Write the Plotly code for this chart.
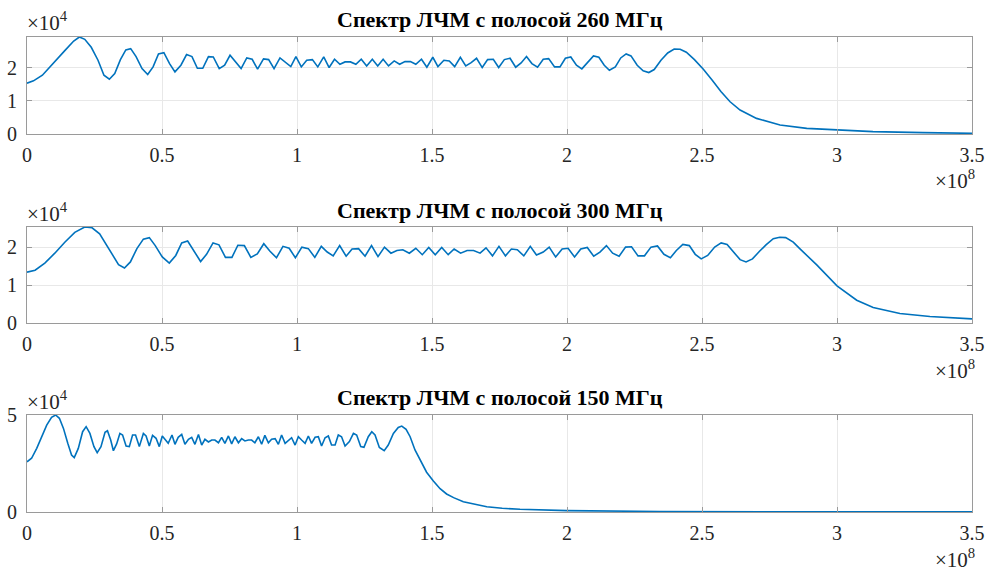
import plotly.graph_objects as go

# Frequency in units of 1e8 Hz, amplitude in units of 1e4
spec_260 = [
    (0, 1.53), (0.024, 1.6), (0.057, 1.77), (0.098, 2.12), (0.14, 2.51), (0.173, 2.8), (0.194, 2.92),
    (0.214, 2.85), (0.238, 2.61), (0.263, 2.22), (0.285, 1.77), (0.305, 1.65), (0.325, 1.82), (0.346, 2.24),
    (0.366, 2.53), (0.384, 2.57), (0.404, 2.33), (0.426, 1.97), (0.447, 1.79), (0.467, 2.02), (0.487, 2.41),
    (0.507, 2.45), (0.528, 2.12), (0.548, 1.87), (0.57, 2.07), (0.591, 2.39), (0.611, 2.33), (0.631, 1.98),
    (0.651, 1.98), (0.672, 2.33), (0.69, 2.32), (0.712, 1.97), (0.732, 2.07), (0.752, 2.37), (0.773, 2.17),
    (0.793, 1.97), (0.814, 2.29), (0.834, 2.25), (0.854, 1.95), (0.876, 2.26), (0.895, 2.24), (0.915, 1.97),
    (0.937, 2.29), (0.957, 2.15), (0.977, 2.03), (0.996, 2.33), (1.016, 2.02), (1.036, 2.22), (1.057, 2.24),
    (1.077, 2.02), (1.099, 2.32), (1.119, 2.0), (1.139, 2.25), (1.159, 2.1), (1.178, 2.17), (1.198, 2.17),
    (1.218, 2.1), (1.238, 2.25), (1.258, 2.05), (1.279, 2.25), (1.299, 2.05), (1.319, 2.25), (1.339, 2.05),
    (1.36, 2.2), (1.38, 2.1), (1.4, 2.18), (1.42, 2.18), (1.44, 2.1), (1.461, 2.25), (1.481, 2.01),
    (1.503, 2.31), (1.522, 2.03), (1.544, 2.22), (1.564, 2.2), (1.584, 2.03), (1.605, 2.31), (1.625, 2.05),
    (1.645, 2.15), (1.665, 2.28), (1.686, 2.0), (1.706, 2.24), (1.727, 2.25), (1.747, 2.0), (1.768, 2.24),
    (1.789, 2.28), (1.81, 2.01), (1.83, 2.14), (1.85, 2.33), (1.87, 2.12), (1.891, 2.01), (1.912, 2.25),
    (1.932, 2.27), (1.954, 2.02), (1.974, 2.02), (1.994, 2.28), (2.014, 2.32), (2.035, 2.07), (2.055, 1.96),
    (2.075, 2.14), (2.098, 2.35), (2.118, 2.31), (2.138, 2.07), (2.157, 1.92), (2.179, 2.02), (2.199, 2.29),
    (2.219, 2.41), (2.237, 2.35), (2.26, 2.07), (2.282, 1.9), (2.303, 1.85), (2.323, 1.94), (2.348, 2.22),
    (2.373, 2.44), (2.397, 2.56), (2.419, 2.55), (2.442, 2.46), (2.472, 2.24), (2.505, 1.95), (2.538, 1.62),
    (2.57, 1.28), (2.604, 0.97), (2.641, 0.72), (2.702, 0.47), (2.789, 0.27), (2.888, 0.17), (3.0, 0.12),
    (3.133, 0.07), (3.318, 0.04), (3.5, 0.02),
]

spec_300 = [
    (0, 1.34), (0.03, 1.39), (0.066, 1.58), (0.103, 1.84), (0.14, 2.13), (0.177, 2.39), (0.214, 2.53),
    (0.241, 2.51), (0.269, 2.35), (0.296, 2.04), (0.32, 1.74), (0.339, 1.54), (0.361, 1.45), (0.383, 1.61),
    (0.407, 1.96), (0.431, 2.21), (0.453, 2.25), (0.475, 2.04), (0.501, 1.74), (0.527, 1.58), (0.551, 1.78),
    (0.573, 2.11), (0.595, 2.16), (0.619, 1.89), (0.643, 1.62), (0.665, 1.81), (0.689, 2.11), (0.711, 2.06),
    (0.735, 1.73), (0.759, 1.73), (0.781, 2.05), (0.805, 2.04), (0.829, 1.73), (0.853, 1.82), (0.877, 2.09),
    (0.9, 1.89), (0.924, 1.72), (0.948, 2.02), (0.971, 1.97), (0.994, 1.72), (1.018, 2.0), (1.042, 1.96),
    (1.066, 1.73), (1.09, 2.02), (1.112, 1.87), (1.134, 1.77), (1.158, 2.04), (1.182, 1.76), (1.204, 1.95),
    (1.228, 1.96), (1.252, 1.76), (1.276, 2.04), (1.3, 1.75), (1.324, 2.0), (1.348, 1.84), (1.37, 1.91),
    (1.392, 1.93), (1.416, 1.84), (1.44, 1.97), (1.464, 1.8), (1.488, 1.99), (1.512, 1.8), (1.536, 1.99),
    (1.56, 1.8), (1.582, 1.95), (1.606, 1.84), (1.63, 1.91), (1.654, 1.91), (1.678, 1.84), (1.7, 1.98),
    (1.724, 1.77), (1.748, 2.02), (1.772, 1.77), (1.794, 1.95), (1.816, 1.93), (1.84, 1.77), (1.864, 2.02),
    (1.887, 1.79), (1.912, 1.87), (1.934, 2.0), (1.958, 1.74), (1.982, 1.95), (2.004, 1.97), (2.028, 1.74),
    (2.051, 1.95), (2.075, 1.99), (2.099, 1.76), (2.122, 1.87), (2.146, 2.04), (2.169, 1.84), (2.193, 1.76),
    (2.217, 2.0), (2.239, 2.01), (2.263, 1.77), (2.287, 1.77), (2.311, 2.0), (2.335, 2.03), (2.359, 1.81),
    (2.383, 1.72), (2.405, 1.91), (2.429, 2.07), (2.453, 2.04), (2.475, 1.81), (2.497, 1.69), (2.521, 1.78),
    (2.547, 2.0), (2.571, 2.11), (2.593, 2.07), (2.617, 1.87), (2.641, 1.67), (2.663, 1.61), (2.687, 1.69),
    (2.713, 1.89), (2.737, 2.06), (2.764, 2.22), (2.788, 2.26), (2.81, 2.25), (2.838, 2.13), (2.862, 1.96),
    (2.925, 1.53), (3.0, 0.98), (3.073, 0.6), (3.134, 0.41), (3.233, 0.25), (3.344, 0.17), (3.5, 0.11),
]

spec_150 = [
    (0, 2.59), (0.017, 2.77), (0.036, 3.28), (0.054, 3.88), (0.073, 4.48), (0.091, 4.88), (0.106, 5.0),
    (0.12, 4.83), (0.135, 4.31), (0.151, 3.54), (0.165, 2.94), (0.175, 2.8), (0.19, 3.28), (0.206, 4.14),
    (0.219, 4.4), (0.233, 4.05), (0.248, 3.37), (0.26, 3.06), (0.274, 3.37), (0.289, 4.11), (0.298, 4.19),
    (0.31, 3.71), (0.32, 3.16), (0.332, 3.51), (0.344, 4.05), (0.354, 3.97), (0.367, 3.4), (0.379, 3.37),
    (0.391, 3.97), (0.402, 3.97), (0.416, 3.37), (0.431, 4.05), (0.441, 3.92), (0.453, 3.4), (0.465, 3.95),
    (0.478, 3.8), (0.49, 3.37), (0.501, 3.92), (0.512, 3.71), (0.523, 3.54), (0.537, 3.97), (0.548, 3.49),
    (0.56, 3.85), (0.573, 4.0), (0.585, 3.49), (0.598, 3.75), (0.61, 3.85), (0.622, 3.49), (0.635, 4.0),
    (0.647, 3.45), (0.659, 3.75), (0.672, 3.61), (0.684, 3.71), (0.696, 3.71), (0.709, 3.57), (0.721, 3.85),
    (0.733, 3.54), (0.746, 3.92), (0.758, 3.51), (0.77, 3.88), (0.783, 3.57), (0.795, 3.78), (0.807, 3.66),
    (0.82, 3.71), (0.832, 3.71), (0.844, 3.57), (0.857, 3.88), (0.869, 3.49), (0.881, 3.95), (0.894, 3.57),
    (0.906, 3.75), (0.919, 3.78), (0.931, 3.49), (0.943, 3.97), (0.956, 3.54), (0.968, 3.71), (0.98, 3.83),
    (0.993, 3.45), (1.005, 3.88), (1.017, 3.71), (1.03, 3.54), (1.042, 3.92), (1.054, 3.54), (1.067, 3.85),
    (1.079, 3.88), (1.091, 3.4), (1.104, 3.83), (1.116, 3.92), (1.128, 3.45), (1.141, 3.45), (1.153, 3.97),
    (1.165, 3.88), (1.178, 3.4), (1.194, 3.63), (1.209, 4.05), (1.221, 3.97), (1.236, 3.37), (1.248, 3.33),
    (1.264, 3.88), (1.277, 4.14), (1.289, 3.97), (1.305, 3.33), (1.323, 3.16), (1.338, 3.45), (1.357, 4.05),
    (1.375, 4.36), (1.388, 4.43), (1.404, 4.26), (1.419, 3.88), (1.437, 3.2), (1.456, 2.7), (1.48, 2.05),
    (1.505, 1.6), (1.53, 1.2), (1.554, 0.93), (1.58, 0.74), (1.616, 0.53), (1.66, 0.38), (1.703, 0.27),
    (1.76, 0.19), (1.826, 0.14), (1.999, 0.07), (2.344, 0.025), (2.8, 0.015), (3.5, 0.01),
]

titles = ["Спектр ЛЧМ с полосой 260 МГц", "Спектр ЛЧМ с полосой 300 МГц", "Спектр ЛЧМ с полосой 150 МГц"]
x_ticks = [0, 0.5, 1, 1.5, 2, 2.5, 3, 3.5]
x_ticklabels = ["0", "0.5", "1", "1.5", "2", "2.5", "3", "3.5"]
y_ticks = [[0, 1, 2], [0, 1, 2], [0, 5]]

series = [spec_260, spec_300, spec_150]

W, H = 986, 569
plot_left, plot_right = 27, 972          # window pixels
boxes = [(37, 134), (227, 323), (415, 512)]  # window pixel top/bottom


def px(x):
    return x / W


def py(y):
    return 1 - y / H


FONT = "Liberation Serif"
LINE = "#0072BD"
AXC = "#9a9a9a"
GRID = "#e8e8e8"
TXT = "#262626"
TICK_SIZE = 20

fig = go.Figure()
layout = dict(
    width=W, height=H,
    margin=dict(l=0, r=0, t=0, b=0, autoexpand=False),
    paper_bgcolor="white", plot_bgcolor="white",
    showlegend=False,
    font=dict(family=FONT, size=TICK_SIZE, color=TXT),
)
annotations = []
for i, (data, title, yt, (top, bot)) in enumerate(zip(series, titles, y_ticks, boxes)):
    f = [p[0] for p in data]
    a = [p[1] for p in data]
    n = "" if i == 0 else str(i + 1)
    fig.add_trace(go.Scatter(x=f, y=a, mode="lines", line=dict(color=LINE, width=1.6),
                             xaxis="x" + n, yaxis="y" + n, hoverinfo="skip"))
    common = dict(showline=True, linecolor=AXC, linewidth=1, mirror="ticks",
                  ticks="inside", ticklen=5, tickcolor=AXC, showgrid=True, gridcolor=GRID,
                  gridwidth=1, zeroline=False, automargin=False,
                  tickfont=dict(family=FONT, size=TICK_SIZE, color=TXT))
    layout["xaxis" + n] = dict(common, domain=[px(plot_left), px(plot_right)], range=[0, 3.5],
                               tickvals=x_ticks, ticktext=x_ticklabels, anchor="y" + n,
                               ticklabelstandoff=3)
    layout["yaxis" + n] = dict(common, domain=[py(bot), py(top)], range=[0, max(a)], tickvals=yt,
                               ticktext=[str(v) for v in yt], anchor="x" + n,
                               ticklabelstandoff=5)
    annotations.append(dict(text="<b>" + title + "</b>", x=px((plot_left + plot_right) / 2),
                            y=py(top - 17), xref="paper", yref="paper",
                            xanchor="center", yanchor="middle", showarrow=False,
                            font=dict(family=FONT, size=22, color="black")))
    annotations.append(dict(text="×10<sup>4</sup>", x=px(plot_left - 2), y=py(top - 15),
                            xref="paper", yref="paper", xanchor="left", yanchor="middle",
                            showarrow=False, font=dict(family=FONT, size=21, color=TXT)))
    annotations.append(dict(text="×10<sup>8</sup>", x=px(plot_right + 5), y=py(bot + 46),
                            xref="paper", yref="paper", xanchor="right", yanchor="middle",
                            showarrow=False, font=dict(family=FONT, size=21, color=TXT)))

layout["annotations"] = annotations
fig.update_layout(**layout)
page_css = ("document.documentElement.style.overflow='hidden';"
            "document.body.style.margin='0';document.body.style.overflow='hidden';")
fig.write_html("out.html", post_script=page_css, config={"displayModeBar": False})
